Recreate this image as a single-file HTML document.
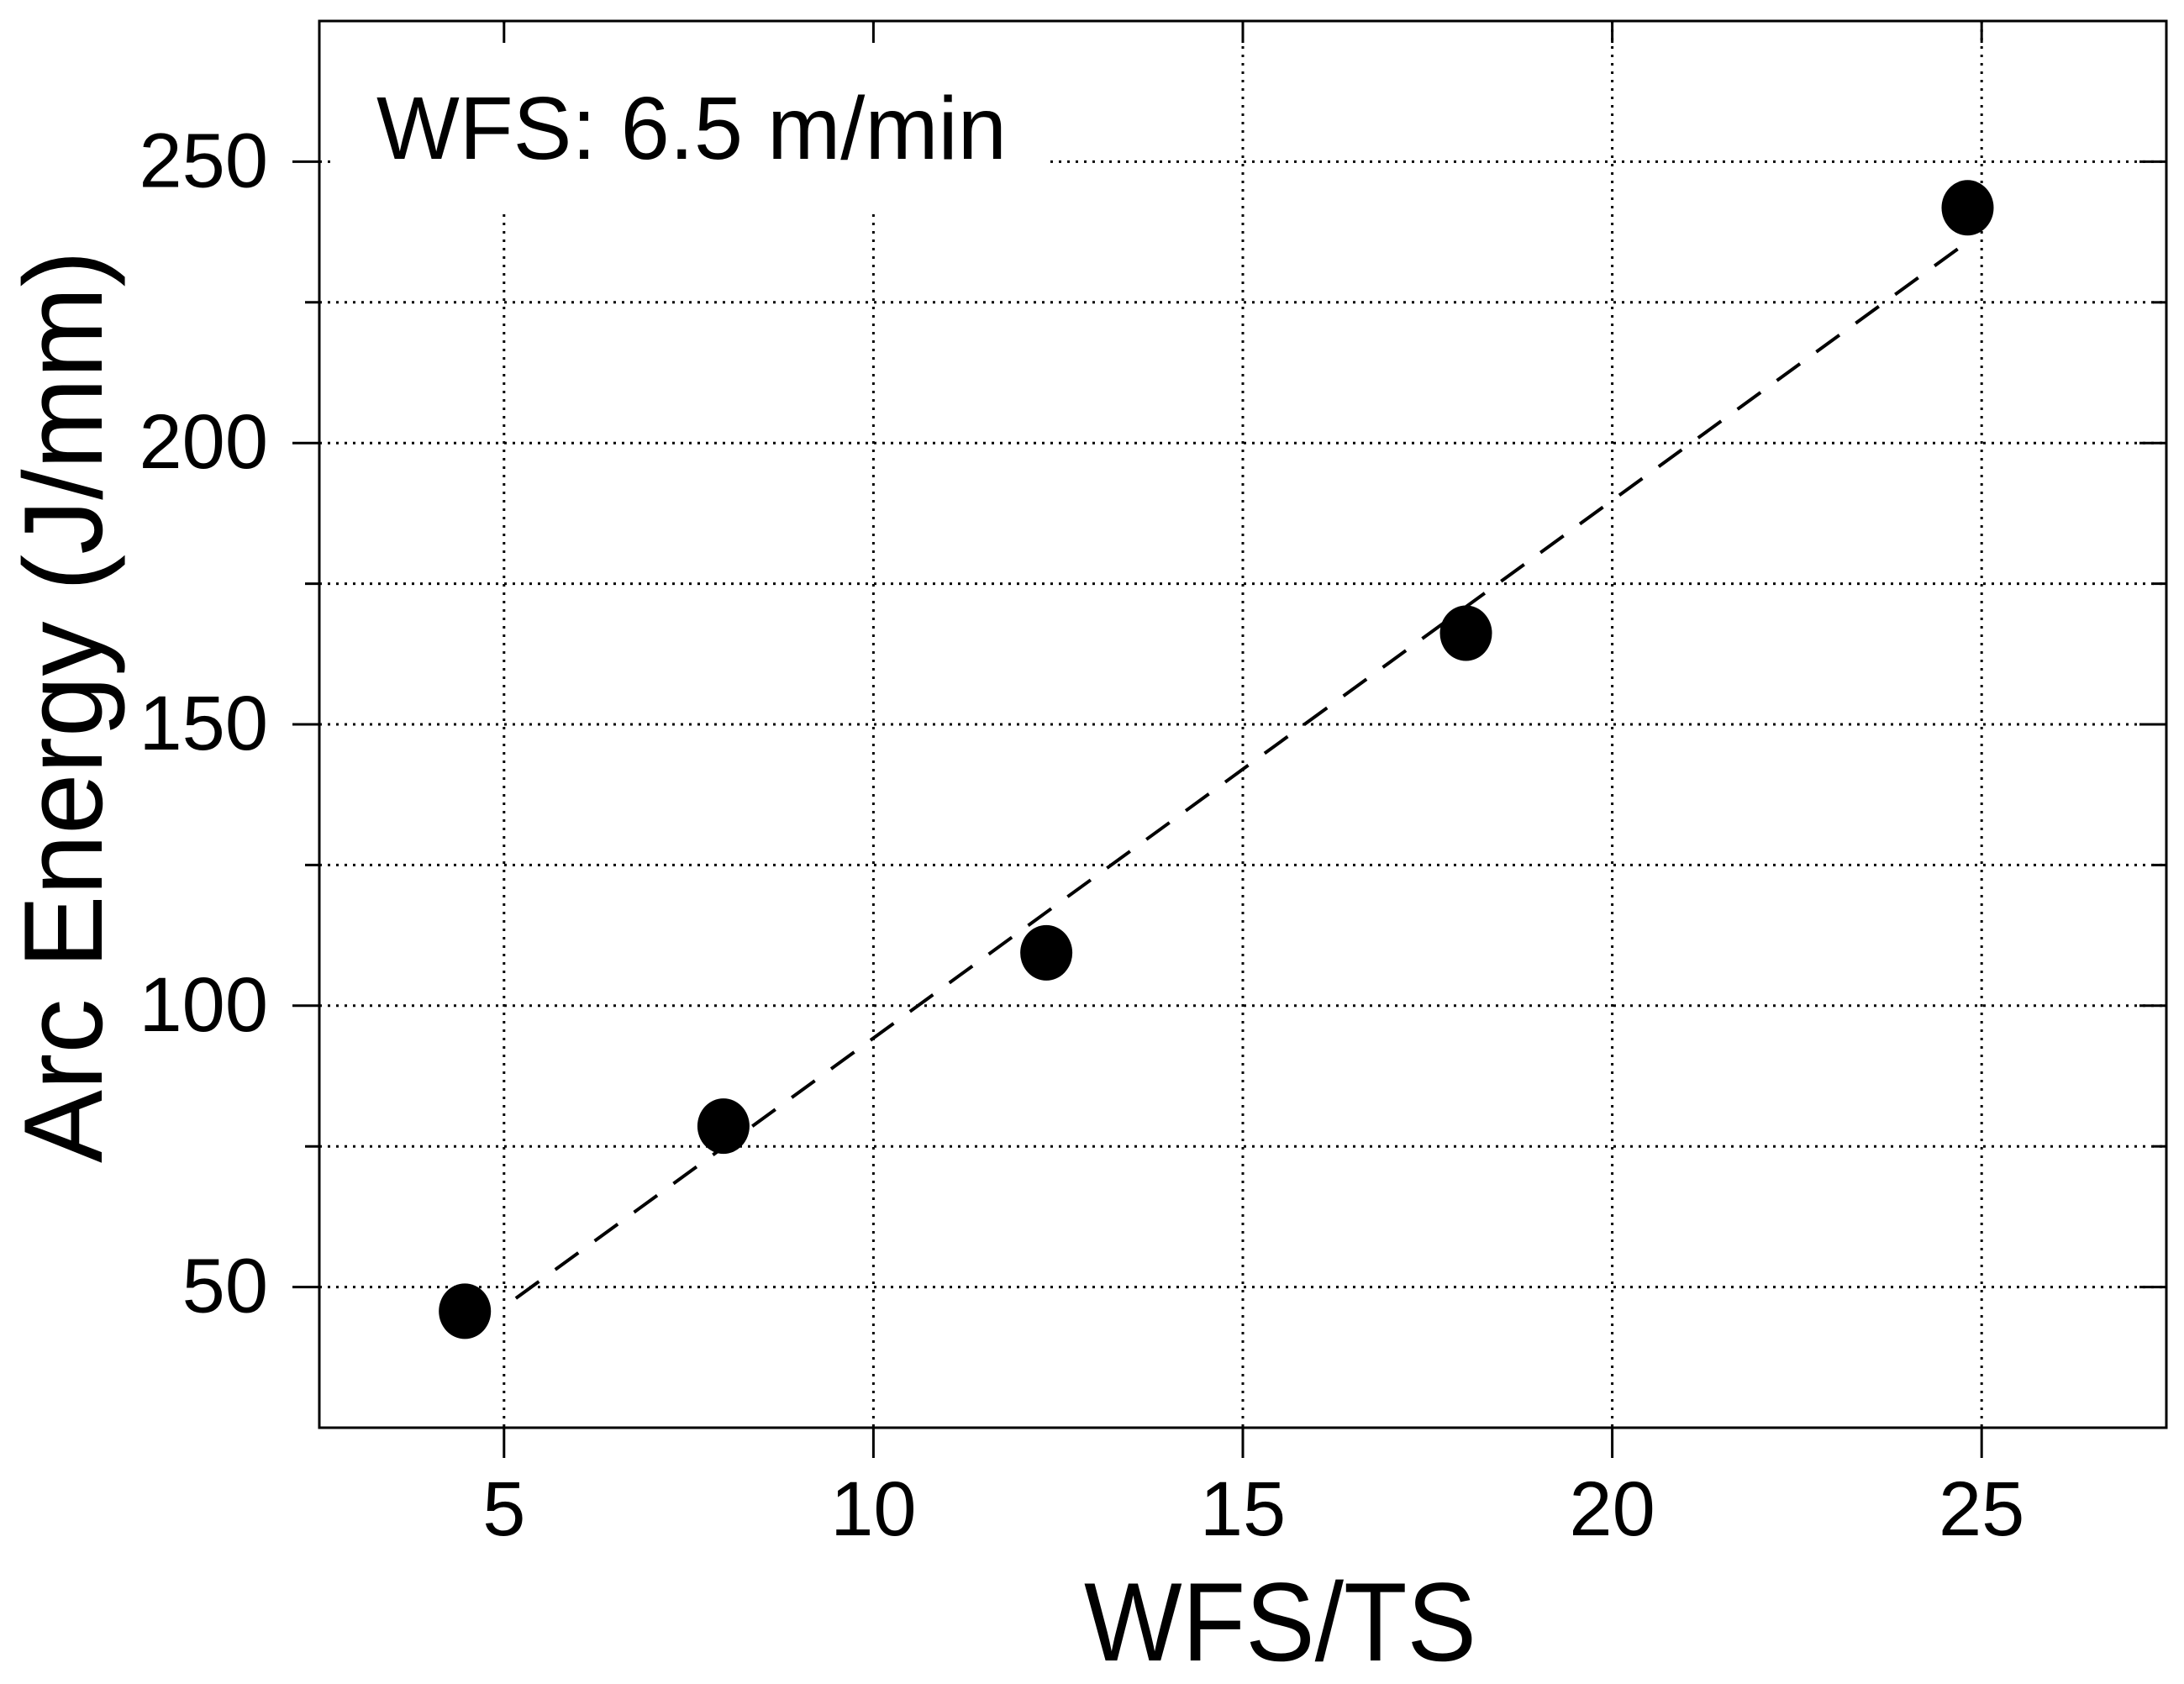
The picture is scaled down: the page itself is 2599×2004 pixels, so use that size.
<!DOCTYPE html>
<html><head><meta charset="utf-8"><style>
html,body{margin:0;padding:0;background:#fff;}
svg{display:block;font-family:"Liberation Sans",Arial,sans-serif;}
</style></head><body>
<svg id="chart" width="2599" height="2004" viewBox="0 0 2599 2004" xmlns="http://www.w3.org/2000/svg">
<rect x="0" y="0" width="2599" height="2004" fill="#fff"/>
<g id="grid"></g>
<rect x="400" y="28" width="850" height="222" fill="#fff"/>
<g id="fit"></g>
<g id="pts"></g>
<g id="axes"></g>
<text x="448" y="189" font-size="106" textLength="750" lengthAdjust="spacingAndGlyphs" fill="#000">WFS: 6.5 m/min</text>
<text x="1290" y="1976" font-size="133" textLength="467" lengthAdjust="spacingAndGlyphs" fill="#000">WFS/TS</text>
<text transform="translate(121,1384) rotate(-90)" font-size="133" textLength="1086" lengthAdjust="spacingAndGlyphs" fill="#000">Arc Energy (J/mm)</text>
</svg>
<script>
const xValues = [4.47, 7.97, 12.34, 18.02, 24.81];
const yValues = [45.7, 78.6, 109.4, 166.2, 241.8];
const fitX = [5.16, 24.73];
const fitY = [48, 235];
const xTicks = [5, 10, 15, 20, 25];
const yTicks = [50, 100, 150, 200, 250];
const yGrid = [50, 75, 100, 125, 150, 175, 200, 225, 250];

const L=380,R=2578,T=25,B=1699;
const X0=2.5,X1=27.5,Y0=25,Y1=275;
const sx=v=>L+(v-X0)/(X1-X0)*(R-L);
const sy=v=>B-(v-Y0)/(Y1-Y0)*(B-T);
const NS='http://www.w3.org/2000/svg';
function mk(tag,parent,attrs){const e=document.createElementNS(NS,tag);for(const k in attrs)e.setAttribute(k,attrs[k]);parent.appendChild(e);return e;}
const grid=document.getElementById('grid'),axes=document.getElementById('axes'),pts=document.getElementById('pts'),fit=document.getElementById('fit');

yGrid.forEach(v=>{
  const g=mk('line',grid,{x1:L,x2:R,y1:sy(v),y2:sy(v),stroke:'#000','stroke-width':3,'stroke-dasharray':'3 7'});
  
  
  const major=yTicks.includes(v);
  const t=mk('line',axes,{x1:L-(major?32:17),x2:L,y1:sy(v),y2:sy(v),stroke:'#000','stroke-width':3});
  
  
  const t2=mk('line',axes,{x1:R-(major?32:16),x2:R,y1:sy(v),y2:sy(v),stroke:'#000','stroke-width':3});
  
  
});
yTicks.forEach(v=>{
  const tx=mk('text',axes,{x:319,y:sy(v)+30,'font-size':92,'text-anchor':'end',fill:'#000'});
  tx.textContent=v;
  
  
});
xTicks.forEach(v=>{
  const g=mk('line',grid,{x1:sx(v),x2:sx(v),y1:T,y2:B,stroke:'#000','stroke-width':3,'stroke-dasharray':'3 7'});
  
  
  const t=mk('line',axes,{x1:sx(v),x2:sx(v),y1:B,y2:B+36,stroke:'#000','stroke-width':3});
  
  
  const t2=mk('line',axes,{x1:sx(v),x2:sx(v),y1:T,y2:T+26,stroke:'#000','stroke-width':3});
  
  
  const tx=mk('text',axes,{x:sx(v),y:1827,'font-size':92,'text-anchor':'middle',fill:'#000'});
  tx.textContent=v;
  
  
});
const frame=mk('rect',axes,{x:L,y:T,width:R-L,height:B-T,fill:'none',stroke:'#000','stroke-width':3});



const fl=mk('line',fit,{x1:sx(fitX[0]),y1:sy(fitY[0]),x2:sx(fitX[1]),y2:sy(fitY[1]),stroke:'#000','stroke-width':4,'stroke-dasharray':'34 24'});



xValues.forEach((v,i)=>{
  const c=mk('ellipse',pts,{cx:sx(v),cy:sy(yValues[i]),rx:31,ry:33,fill:'#000'});
  
  
});
</script>
</body></html>
